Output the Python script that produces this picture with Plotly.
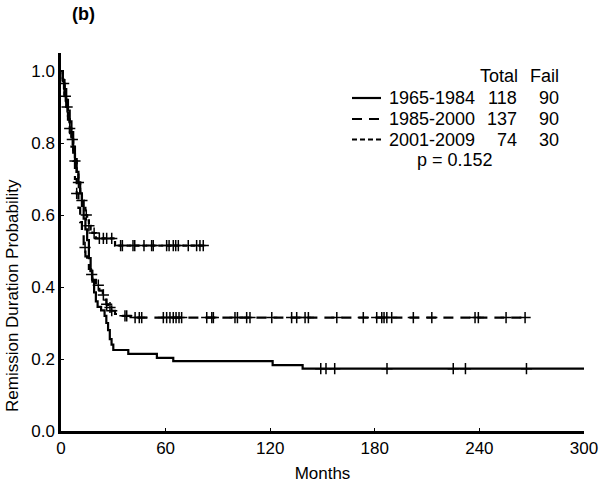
import numpy as np
import plotly.graph_objects as go

# ---------------- data ----------------
groups = ["1965-1984", "1985-2000", "2001-2009"]
totals = [118, 137, 74]
fails = [90, 90, 30]
p_text = "p = 0.152"

# 1965-1984 (solid)
t_a = [0, 1, 2, 3, 4, 5, 6, 7, 8, 9, 10, 11, 12, 13, 14, 15, 16, 17, 18, 19, 20, 21,
       23, 25, 26, 27, 28, 29, 30, 38.6, 55, 64.4, 121.4, 138.6]
s_a = [1.0, 0.975, 0.95, 0.92, 0.89, 0.86, 0.83, 0.79, 0.755, 0.72, 0.69, 0.66, 0.625,
       0.59, 0.56, 0.53, 0.48, 0.445, 0.415, 0.385, 0.36, 0.345, 0.335, 0.32, 0.3, 0.28,
       0.255, 0.24, 0.225, 0.214, 0.203, 0.194, 0.183, 0.173]
end_a = 300
cens_a = [149, 152, 157, 187, 225, 232, 267]

# 1985-2000 (dashed)
t_b = [0, 1, 2, 3, 4, 5, 6, 7, 8, 9, 10, 11, 12, 13, 14, 15, 16, 17, 18, 20, 22, 24,
       25, 26, 27, 29, 31, 35, 40]
s_b = [1.0, 0.97, 0.935, 0.9, 0.865, 0.83, 0.79, 0.75, 0.7, 0.66, 0.62, 0.58, 0.545,
       0.51, 0.485, 0.465, 0.45, 0.435, 0.42, 0.405, 0.39, 0.378, 0.365, 0.352, 0.343,
       0.334, 0.325, 0.32, 0.315]
end_b = 268
cens_b = [9.0, 13.8, 17.6, 21.4, 24.3, 26.2, 28.1, 29.1, 36.7, 37.7, 42.5, 44.9, 46.3,
          58.7, 60.6, 62.5, 64.4, 66, 67.7, 69.2, 83.6, 86.5, 87.4, 99.8, 101.2, 106.5,
          108.4, 120.9, 132.3, 135.2, 140, 141.9, 158.2, 173.4, 181.1, 184, 185.3, 186.9,
          189.7, 202.1, 212.7, 237.5, 239.4, 255.3, 266.2]

# 2001-2009 (dotted)
t_c = [0, 1, 2, 3, 4, 5, 6, 7, 8, 9, 10, 11, 12, 13, 14, 15, 16, 17, 18, 20, 31]
s_c = [1.0, 0.965, 0.93, 0.9, 0.87, 0.84, 0.81, 0.78, 0.75, 0.72, 0.69, 0.665, 0.64,
       0.62, 0.6, 0.585, 0.57, 0.56, 0.55, 0.535, 0.515]
end_c = 82
cens_c = [1.5, 2.5, 3.5, 5, 6.5, 8, 10, 12, 14.5, 16, 19, 22, 24.3, 26.2, 29.1, 34.2,
          35.2, 41.3, 42.3, 47.6, 52, 52.9, 60.6, 62, 64.4, 65.8, 67.3, 73, 77.8, 79.7,
          81.6]

x_ticks = [0, 60, 120, 180, 240, 300]
y_ticks = [0.0, 0.2, 0.4, 0.6, 0.8, 1.0]

FONT = "Arial, Liberation Sans, sans-serif"
dashes = ["solid", "10px,7px", "5px,3px"]

fig = go.Figure()


def step_val(ts, ss, x):
    i = np.searchsorted(np.array(ts), x, side="right") - 1
    return ss[max(i, 0)]


series = [(t_a, s_a, end_a, cens_a), (t_b, s_b, end_b, cens_b), (t_c, s_c, end_c, cens_c)]
for k, (ts, ss, te, cs) in enumerate(series):
    xs = list(ts) + [te]
    ys = list(ss) + [ss[-1]]
    fig.add_trace(go.Scatter(x=xs, y=ys, mode="lines", line_shape="hv",
                             line=dict(color="black", width=2.2, dash=dashes[k]),
                             showlegend=False, hoverinfo="skip", cliponaxis=False))
    fig.add_trace(go.Scatter(x=cs, y=[step_val(ts, ss, c) for c in cs], mode="markers",
                             marker=dict(symbol="cross-thin", size=8,
                                         line=dict(color="black", width=1.5)),
                             showlegend=False, hoverinfo="skip"))

# ---------------- layout geometry ----------------
W, H = 600, 487
L, R, T, B = 61, 16, 53, 56
pw, ph = W - L - R, H - T - B


def px(x):
    return (x - L) / pw


def py(y):
    return (H - B - y) / ph


ann = []
fs = 18
ann.append(dict(x=px(520), y=py(76), text="Total", xanchor="right"))
ann.append(dict(x=px(561), y=py(76), text="Fail", xanchor="right"))
row_y = [98, 119, 139.5]
for k in range(3):
    ann.append(dict(x=px(387), y=py(row_y[k]), text=groups[k], xanchor="left"))
    ann.append(dict(x=px(519), y=py(row_y[k]), text=str(totals[k]), xanchor="right"))
    ann.append(dict(x=px(561), y=py(row_y[k]), text=str(fails[k]), xanchor="right"))
ann.append(dict(x=px(455), y=py(160), text=p_text, xanchor="center"))
ann.append(dict(x=px(83), y=py(14), text="<b>(b)</b>", xanchor="center"))
for a in ann:
    a.update(xref="paper", yref="paper", yanchor="middle", showarrow=False,
             font=dict(family=FONT, size=fs, color="black"))
# y-axis title (placed lower than the axis centre, as in the original)
ann.append(dict(x=px(12), y=py(296), xref="paper", yref="paper",
                text="Remission Duration Probability",
                textangle=-90, showarrow=False, xanchor="center", yanchor="middle",
                font=dict(family=FONT, size=17, color="black")))

shapes = []
for k in range(3):
    shapes.append(dict(type="line", xref="paper", yref="paper",
                       x0=px(352), x1=px(381), y0=py(row_y[k]), y1=py(row_y[k]),
                       line=dict(color="black", width=2.2, dash=dashes[k])))

fig.update_layout(
    width=W, height=H, margin=dict(l=L, r=R, t=T, b=B),
    plot_bgcolor="white", paper_bgcolor="white",
    font=dict(family=FONT, size=17, color="black"),
    annotations=ann, shapes=shapes,
    xaxis=dict(range=[0, 300], tickvals=x_ticks, ticks="inside", ticklen=3,
               tickcolor="black", showline=True, linecolor="black", linewidth=2.5,
               showgrid=False, zeroline=False, automargin=False,
               title=dict(text="Months", standoff=10, font=dict(size=17)),
               tickfont=dict(size=17)),
    yaxis=dict(range=[0, 1.05], tickvals=y_ticks, tickformat=".1f", ticks="inside",
               ticklen=3, tickcolor="black", showline=True, linecolor="black",
               linewidth=2.5, showgrid=False, zeroline=False, automargin=False,
               tickfont=dict(size=17)),
)

# remove the browser's default 8px body margin so the figure fills the window
fig.write_html("out.html", config={"displayModeBar": False},
               post_script="document.body.style.margin='0px';")
